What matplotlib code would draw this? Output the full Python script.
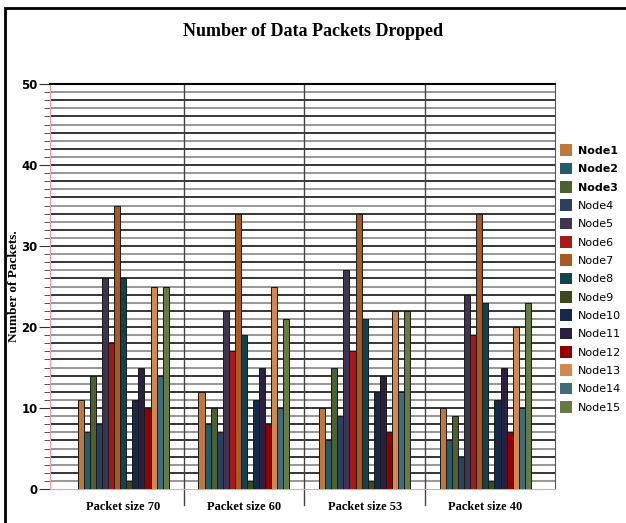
import numpy as np
import matplotlib.pyplot as plt
from matplotlib.patches import Rectangle, Patch

# Data
groups = ['Packet size 70', 'Packet size 60', 'Packet size 53', 'Packet size 40']
nodes = ['Node%d' % i for i in range(1, 16)]
size70 = [11, 7, 14, 8, 26, 18, 35, 26, 1, 11, 15, 10, 25, 14, 25]
size60 = [12, 8, 10, 7, 22, 17, 34, 19, 1, 11, 15, 8, 25, 10, 21]
size53 = [10, 6, 15, 9, 27, 17, 34, 21, 1, 12, 14, 7, 22, 12, 22]
size40 = [10, 6, 9, 4, 24, 19, 34, 23, 1, 11, 15, 7, 20, 10, 23]
node_colors = ['#c0773a', '#245c6a', '#4d6030', '#2a4060', '#3f3553',
               '#a81a1a', '#a85a20', '#10434e', '#3a4a1a', '#152a4a',
               '#2b1f40', '#930000', '#d08a50', '#3e6e7c', '#667a45']

values = np.array([size70, size60, size53, size40])  # groups x nodes

fig = plt.figure(figsize=(6.26, 5.23), dpi=100)
ax = fig.add_axes([50 / 626, 34 / 523, 505 / 626, 405 / 523])

# horizontal grid, one line per unit, alternating black / gray
for v in range(1, 51):
    ax.axhline(v, color='black' if v % 2 == 0 else '#7a7a7a', lw=1.1, zorder=0)

# group separators, running a bit below the axis
for xs in [0.5, 1.5, 2.5]:
    ax.plot([xs, xs], [-2, 50], color='#444444', lw=1.0, clip_on=False, zorder=1)

n = len(nodes)
group_width = 0.754
bw = group_width / n
x = np.arange(len(groups))
for i in range(n):
    pos = x - group_width / 2 + bw * (i + 0.5)
    ax.bar(pos, values[:, i], width=bw, color=node_colors[i],
           edgecolor='#1a1a1a', linewidth=0.7, zorder=3)

ax.set_xlim(-0.607, 3.577)
ax.set_ylim(0, 50)

ax.spines['left'].set_color('#f0a0a0')
ax.spines['bottom'].set_color('#f0a0a0')
ax.spines['right'].set_color('#555555')
ax.spines['top'].set_color('black')
ax.spines['top'].set_linewidth(1.5)

ax.set_yticks(range(0, 51, 10))
ax.set_yticks(range(0, 51), minor=True)
ax.tick_params(axis='y', which='major', length=8, color='#333333', labelsize=8.5, pad=1)
ax.tick_params(axis='y', which='minor', length=4, color='#333333')
for lab in ax.get_yticklabels():
    lab.set_fontweight('bold')

ax.set_xticks(x)
ax.set_xticklabels(groups, family='Liberation Serif', fontweight='bold', fontsize=9)
ax.tick_params(axis='x', length=0, pad=9)

ax.set_ylabel('Number of Packets.', family='Liberation Serif', fontweight='bold',
              fontsize=9.5)
ax.yaxis.set_label_coords(-30 / 505, 0.5)

fig.text(313 / 626, 1 - 31 / 523, 'Number of Data Packets Dropped',
         family='Liberation Serif', fontweight='bold', fontsize=13,
         ha='center', va='center')

# legend
handles = [Patch(facecolor=c, edgecolor='none') for c in node_colors]
leg = fig.legend(handles, nodes, loc='upper left',
                 bbox_to_anchor=(556 / 626, 1 - 140 / 523),
                 frameon=False, fontsize=8, handlelength=1.0, handleheight=1.2,
                 labelspacing=0.62, handletextpad=0.6, borderaxespad=0)
for i, t in enumerate(leg.get_texts()):
    if i < 3:
        t.set_fontweight('bold')

# outer frame
fig.patches.append(Rectangle((5 / 626, -0.1), 1.2, 1.1 - 8 / 523,
                             transform=fig.transFigure, fill=False,
                             edgecolor='black', linewidth=2.0))

fig.savefig('out.png', dpi=100)
